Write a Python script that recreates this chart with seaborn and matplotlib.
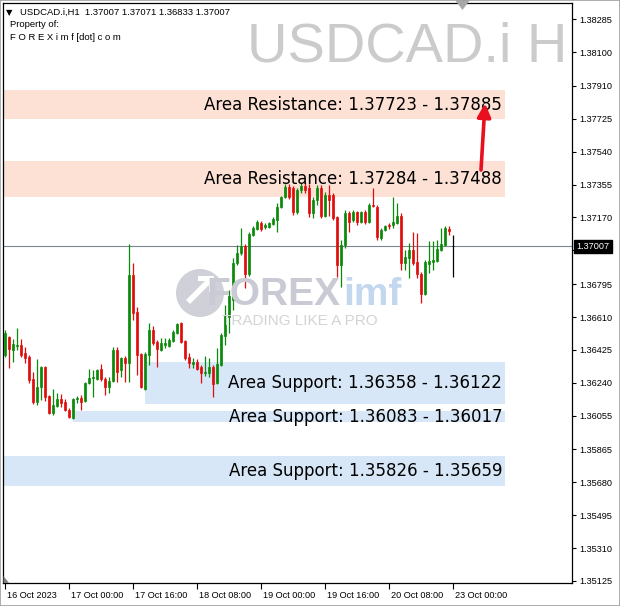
import matplotlib
matplotlib.use("Agg")
import matplotlib.pyplot as plt
import matplotlib.transforms as mtransforms
from matplotlib.patches import Rectangle, Circle, Polygon
import seaborn as sns
import numpy as np
import pandas as pd

# ---------------- data (H1 candles, 16 Oct 08:00 .. 23 Oct 00:00) ----------------
opens = [1.36396, 1.36498, 1.36425, 1.36447, 1.36453, 1.36408, 1.36385, 1.36262, 1.36132, 1.36216,
         1.36329, 1.36166, 1.36070, 1.36110, 1.36149, 1.36132, 1.36087, 1.36042, 1.36149, 1.36155,
         1.36138, 1.36239, 1.36267, 1.36262, 1.36318, 1.36262, 1.36216, 1.36250, 1.36425, 1.36312,
         1.36380, 1.36352, 1.36846, 1.36638, 1.36402, 1.36205, 1.36396, 1.36537, 1.36470, 1.36425,
         1.36453, 1.36447, 1.36475, 1.36520, 1.36577, 1.36475, 1.36385, 1.36346, 1.36357, 1.36329,
         1.36295, 1.36295, 1.36329, 1.36239, 1.36340, 1.36503, 1.36610, 1.36706, 1.36914, 1.36970,
         1.37010, 1.36852, 1.37071, 1.37105, 1.37139, 1.37117, 1.37117, 1.37133, 1.37156, 1.37229,
         1.37285, 1.37342, 1.37336, 1.37201, 1.37325, 1.37347, 1.37336, 1.37195, 1.37268, 1.37336,
         1.37178, 1.37297, 1.37297, 1.37173, 1.36903, 1.37015, 1.37195, 1.37156, 1.37201, 1.37145,
         1.37201, 1.37145, 1.37240, 1.37229, 1.37055, 1.37100, 1.37128, 1.37128, 1.37139, 1.37178,
         1.36914, 1.36942, 1.36987, 1.36920, 1.36852, 1.36740, 1.36908, 1.36920, 1.36925, 1.36987,
         1.37015, 1.37105, 1.37007]
highs = [1.36537, 1.36503, 1.36487, 1.36549, 1.36487, 1.36441, 1.36396, 1.36301, 1.36374, 1.36335,
         1.36335, 1.36172, 1.36205, 1.36183, 1.36177, 1.36149, 1.36098, 1.36155, 1.36166, 1.36172,
         1.36244, 1.36318, 1.36312, 1.36318, 1.36346, 1.36273, 1.36273, 1.36441, 1.36441, 1.36385,
         1.36391, 1.37021, 1.36914, 1.36667, 1.36408, 1.36413, 1.36577, 1.36560, 1.36481, 1.36492,
         1.36492, 1.36492, 1.36537, 1.36577, 1.36582, 1.36481, 1.36408, 1.36380, 1.36374, 1.36340,
         1.36391, 1.36380, 1.36340, 1.36436, 1.36520, 1.36678, 1.36762, 1.36942, 1.37015, 1.37111,
         1.37021, 1.37088, 1.37122, 1.37156, 1.37150, 1.37139, 1.37145, 1.37173, 1.37251, 1.37291,
         1.37358, 1.37358, 1.37347, 1.37336, 1.37364, 1.37370, 1.37358, 1.37285, 1.37353, 1.37353,
         1.37313, 1.37353, 1.37308, 1.37178, 1.37043, 1.37212, 1.37207, 1.37212, 1.37207, 1.37207,
         1.37212, 1.37251, 1.37336, 1.37240, 1.37111, 1.37128, 1.37139, 1.37285, 1.37251, 1.37195,
         1.36987, 1.37026, 1.37088, 1.37083, 1.36864, 1.36931, 1.37038, 1.37038, 1.37043, 1.37111,
         1.37122, 1.37122, 1.37071]
lows = [1.36385, 1.36323, 1.36357, 1.36425, 1.36385, 1.36352, 1.36239, 1.36121, 1.36115, 1.36143,
        1.36138, 1.36065, 1.36059, 1.36104, 1.36104, 1.36082, 1.36042, 1.36037, 1.36127, 1.36087,
        1.36132, 1.36233, 1.36160, 1.36256, 1.36250, 1.36172, 1.36183, 1.36244, 1.36244, 1.36273,
        1.36244, 1.36244, 1.36593, 1.36284, 1.36211, 1.36199, 1.36340, 1.36453, 1.36329, 1.36419,
        1.36436, 1.36441, 1.36470, 1.36515, 1.36464, 1.36368, 1.36323, 1.36323, 1.36312, 1.36239,
        1.36278, 1.36273, 1.36160, 1.36233, 1.36335, 1.36453, 1.36520, 1.36650, 1.36903, 1.36959,
        1.36774, 1.36841, 1.37066, 1.37100, 1.37094, 1.37105, 1.37111, 1.37128, 1.37088, 1.37223,
        1.37280, 1.37274, 1.37184, 1.37190, 1.37308, 1.37308, 1.37173, 1.37167, 1.37240, 1.37167,
        1.37173, 1.37178, 1.37156, 1.36835, 1.36779, 1.36998, 1.37088, 1.37145, 1.37128, 1.37139,
        1.37133, 1.37139, 1.37229, 1.37043, 1.37043, 1.37094, 1.37105, 1.37111, 1.37133, 1.36875,
        1.36875, 1.36830, 1.36903, 1.36830, 1.36689, 1.36734, 1.36858, 1.36875, 1.36920, 1.36982,
        1.37010, 1.37071, 1.36833]
closes = [1.36520, 1.36430, 1.36458, 1.36453, 1.36396, 1.36380, 1.36256, 1.36132, 1.36216, 1.36329,
          1.36160, 1.36070, 1.36115, 1.36149, 1.36127, 1.36087, 1.36048, 1.36149, 1.36155, 1.36132,
          1.36239, 1.36267, 1.36273, 1.36312, 1.36262, 1.36216, 1.36250, 1.36425, 1.36301, 1.36380,
          1.36352, 1.36846, 1.36633, 1.36396, 1.36216, 1.36402, 1.36537, 1.36464, 1.36430, 1.36464,
          1.36464, 1.36481, 1.36526, 1.36571, 1.36470, 1.36380, 1.36352, 1.36357, 1.36318, 1.36295,
          1.36301, 1.36329, 1.36233, 1.36346, 1.36509, 1.36616, 1.36729, 1.36914, 1.36970, 1.37010,
          1.36852, 1.37077, 1.37111, 1.37145, 1.37105, 1.37128, 1.37139, 1.37162, 1.37229, 1.37285,
          1.37342, 1.37285, 1.37201, 1.37325, 1.37347, 1.37325, 1.37195, 1.37268, 1.37336, 1.37178,
          1.37297, 1.37268, 1.37167, 1.36903, 1.37015, 1.37195, 1.37145, 1.37201, 1.37145, 1.37201,
          1.37145, 1.37240, 1.37235, 1.37060, 1.37100, 1.37122, 1.37122, 1.37145, 1.37178, 1.36914,
          1.36948, 1.36987, 1.36914, 1.36852, 1.36740, 1.36920, 1.36925, 1.36931, 1.36993, 1.37021,
          1.37111, 1.37094, 1.37007]

price_ticks = [1.38285, 1.38100, 1.37910, 1.37725, 1.37540, 1.37355, 1.37170, 1.36985, 1.36795,
               1.36610, 1.36425, 1.36240, 1.36055, 1.35865, 1.35680, 1.35495, 1.35310, 1.35125]
hidden_tick = 1.36985  # covered by the current-price tag
time_tick_bars = [0, 16, 32, 48, 64, 80, 96, 112]
time_tick_labels = ["16 Oct 2023", "17 Oct 00:00", "17 Oct 16:00", "18 Oct 08:00",
                    "19 Oct 00:00", "19 Oct 16:00", "20 Oct 08:00", "23 Oct 00:00"]

resistance_zones = [(1.37723, 1.37885), (1.37284, 1.37488)]
support_zones = [(1.36358, 1.36122), (1.36083, 1.36017), (1.35826, 1.35659)]
support_starts = [35, 17, -0.5]
current_price = 1.37007
header = "USDCAD.i,H1  1.37007 1.37071 1.36833 1.37007"
watermark = "USDCAD.i H"

# ---------------- figure ----------------
sns.set_theme(style="white")
plt.rcParams["font.family"] = ["DejaVu Sans"]

W, H = 620, 606
fig = plt.figure(figsize=(W / 100, H / 100), dpi=100)
fig.patch.set_facecolor("white")
ax = fig.add_axes([3 / W, 23 / H, 569 / W, 580 / H])
ax.set_facecolor("white")

pix = mtransforms.Affine2D().scale(1 / 100) + fig.dpi_scale_trans  # pixel coords (origin bottom-left)

df = pd.DataFrame({"open": opens, "high": highs, "low": lows, "close": closes})
df["bar"] = np.arange(len(df))
df["color"] = np.where(df["close"] > df["open"], "#0a8a0a",
                       np.where(df["close"] < df["open"], "#e00d0d", "#000000"))

ax.set_xlim(-0.5, 141.75)
ax.set_ylim(1.351136, 1.383767)

# zones
for lo_hi in resistance_zones:
    lo, hi = min(lo_hi), max(lo_hi)
    ax.add_patch(Rectangle((-0.5, lo), 125.5, hi - lo, facecolor="#fce1d4", edgecolor="none", zorder=0.5))
for (a, b), xs in zip(support_zones, support_starts):
    lo, hi = min(a, b), max(a, b)
    ax.add_patch(Rectangle((xs, lo), 125 - xs, hi - lo, facecolor="#d7e7f7", edgecolor="none", zorder=0.5))

# watermarks
ax.text(60.6, 1.38045, watermark, fontsize=40.3, color="#cbcbcb", family="Liberation Sans",
        ha="left", va="baseline", zorder=0.3, clip_on=True)
ax.add_patch(Circle((200, H - 293), 24, transform=pix, facecolor="#cfd0d8", edgecolor="none", zorder=0.4))
ax.add_patch(Polygon([(186, H - 300), (205, H - 281), (198, H - 281), (198, H - 276), (214, H - 276),
                      (214, H - 292), (209, H - 292), (209, H - 285), (190, H - 304)],
                     closed=True, transform=pix, facecolor="white", edgecolor="none", zorder=0.45))
fig.text(206, H - 305, "FOREX", transform=pix, fontsize=28, fontweight="bold", family="Liberation Sans",
         color="#c9cad3", ha="left", va="baseline", zorder=0.4)
fig.text(343, H - 305, "imf", transform=pix, fontsize=28, fontweight="bold", family="Liberation Sans",
         color="#c3d7ee", ha="left", va="baseline", zorder=0.4)
fig.text(222, H - 325, "TRADING LIKE A PRO", transform=pix, fontsize=11, family="Liberation Sans",
         color="#d4d4d8", ha="left", va="baseline", zorder=0.4)

# current price line
ax.axhline(current_price, color="#7d8690", lw=0.8, zorder=1)

# candles
ax.vlines(df["bar"], df["low"], df["high"], colors=df["color"], lw=0.9, zorder=3)
body_lo = np.minimum(df["open"], df["close"])
body_h = np.maximum(np.abs(df["close"] - df["open"]), 0.00003)
ax.bar(df["bar"], body_h, bottom=body_lo, width=0.62, color=df["color"], edgecolor=df["color"],
       linewidth=0.5, zorder=3)

# zone labels
label_font = dict(fontsize=12, color="black", ha="right", va="center", zorder=5, family="DejaVu Sans")
res_texts = ["Area Resistance: 1.37723 - 1.37885", "Area Resistance: 1.37284 - 1.37488"]
for (lo, hi), t in zip(resistance_zones, res_texts):
    ax.text(124.3, (lo + hi) / 2, t, **label_font)
sup_texts = ["Area Support: 1.36358 - 1.36122", "Area Support: 1.36083 - 1.36017", "Area Support: 1.35826 - 1.35659"]
sup_y = [1.36240, 1.36050, 1.35742]
for yv, t in zip(sup_y, sup_texts):
    ax.text(124.3, yv, t, **label_font)

# arrow
ax.annotate("", xy=(120.0, 1.37812), xytext=(119.0, 1.37437),
            arrowprops=dict(arrowstyle="-|>", color="#e8101e", lw=2.6, mutation_scale=20,
                            shrinkA=0, shrinkB=0), zorder=6)

# axes styling
for s in ax.spines.values():
    s.set_color("black")
    s.set_linewidth(0.9)
ax.yaxis.tick_right()
ax.set_yticks(price_ticks)
ax.set_yticklabels(["" if v == hidden_tick else f"{v:.5f}" for v in price_ticks])
ax.set_xticks(time_tick_bars)
ax.set_xticklabels(time_tick_labels)
ax.tick_params(axis="y", which="both", direction="out", length=3, width=0.8, color="black",
               pad=2, labelsize=6.6, labelcolor="black", right=True, left=False)
ax.tick_params(axis="x", which="both", direction="out", length=4, width=0.8, color="black",
               pad=2, labelsize=6.6, labelcolor="black", bottom=True)
off = mtransforms.ScaledTranslation(2 / 100, 0, fig.dpi_scale_trans)
for lab in ax.get_xticklabels():
    lab.set_horizontalalignment("left")
    lab.set_family("Liberation Sans")
    lab.set_transform(lab.get_transform() + off)
for lab in ax.get_yticklabels():
    lab.set_family("Liberation Sans")
ax.grid(False)

# current price tag on scale
ax.annotate(f"{current_price:.5f}", xy=(1.0, current_price),
            xycoords=("axes fraction", "data"), xytext=(3.2, 0), textcoords="offset points",
            ha="left", va="center", fontsize=6.6, color="white", family="Liberation Sans",
            bbox=dict(boxstyle="square,pad=0.25", facecolor="black", edgecolor="black"),
            annotation_clip=False, zorder=20)

# header info
fig.text(6, H - 15, "▼", transform=pix, fontsize=6, color="black", ha="left", va="baseline")
fig.text(20, H - 15, header, transform=pix, fontsize=6.8, family="Liberation Sans",
         color="black", ha="left", va="baseline")
fig.text(10, H - 27, "Property of:", transform=pix, fontsize=6.8, family="Liberation Sans",
         color="black", ha="left", va="baseline")
fig.text(10, H - 40, "F O R E X i m f [dot] c o m", transform=pix, fontsize=6.8,
         family="Liberation Sans", color="black", ha="left", va="baseline")

# small chart markers and window frame
fig.patches.append(Polygon([(455, H), (470, H), (462.5, H - 10)], closed=True, transform=pix,
                           facecolor="#a8a8a8", edgecolor="none"))
fig.patches.append(Polygon([(3.5, H - 583), (3.5, H - 576), (9, H - 583)], closed=True, transform=pix,
                           facecolor="#808080", edgecolor="none"))
fig.patches.append(Rectangle((0, 0), 1, 1, transform=fig.transFigure, facecolor="none",
                             edgecolor="#a0a0a0", lw=1.2))

fig.savefig("out.png", dpi=100)
